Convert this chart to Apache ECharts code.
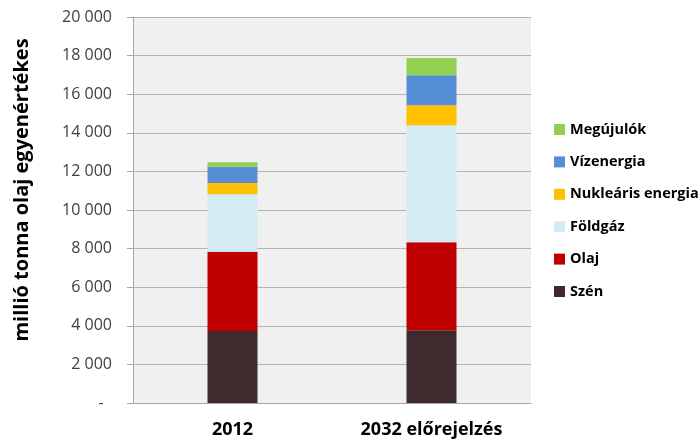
<!DOCTYPE html>
<html>
<head>
<meta charset="utf-8">
<script src="https://cdn.jsdelivr.net/npm/echarts@6/dist/echarts.min.js"></script>
<style>
	html, body { margin: 0; padding: 0; background: #fff; }
	#energy { width: 700px; height: 439px; }
</style>
</head>
<body>
<div id="energy"></div>
<script>
var categories = ['2012', '2032 előrejelzés'];
var szen = [3730, 3770];
var olaj = [4110, 4560];
var foldgaz = [2970, 6060];
var nuklearis = [590, 1040];
var vizenergia = [840, 1550];
var megujulok = [230, 900];
var seriesNames = ['Szén', 'Olaj', 'Földgáz', 'Nukleáris energia', 'Vízenergia', 'Megújulók'];
var seriesColors = ['#3f2a2d', '#c00000', '#d3ebf2', '#ffc000', '#558ed5', '#92d050'];
var yAxisTitle = 'millió tonna olaj egyenértékes';

var font = "'Open Sans', sans-serif";
var values = [szen, olaj, foldgaz, nuklearis, vizenergia, megujulok];
var series = [];
for (var i = 0; i < seriesNames.length; i++) {
	series.push({
		name: seriesNames[i],
		type: 'bar',
		stack: 'total',
		barWidth: 50,
		itemStyle: { color: seriesColors[i] },
		data: values[i]
	});
}

var energyChart = echarts.init(document.getElementById('energy'));
var option = {
	animation: false,
	textStyle: { fontFamily: font },
	grid: {
		show: true,
		left: 133,
		right: 169,
		top: 17,
		bottom: 36,
		backgroundColor: '#f0f0f0',
		borderWidth: 0
	},
	legend: {
		orient: 'vertical',
		left: 549,
		top: 117,
		itemWidth: 11,
		itemHeight: 11,
		itemGap: 17.4,
		icon: 'rect',
		data: seriesNames.slice().reverse(),
		textStyle: {
			fontFamily: font,
			fontWeight: 'bold',
			fontSize: 14.5,
			lineHeight: 14,
			color: '#000'
		}
	},
	xAxis: {
		type: 'category',
		data: categories,
		axisLine: { lineStyle: { color: '#a6a6a6' } },
		axisTick: { show: false },
		axisLabel: {
			margin: 18,
			fontFamily: font,
			fontWeight: 'bold',
			fontSize: 18,
			color: '#000'
		}
	},
	yAxis: {
		type: 'value',
		min: 0,
		max: 20000,
		interval: 2000,
		axisLine: { show: true, lineStyle: { color: '#a6a6a6' } },
		axisTick: { show: true, length: 6, lineStyle: { color: '#a6a6a6' } },
		splitLine: { lineStyle: { color: '#b3b3b3' } },
		axisLabel: {
			margin: 21,
			fontFamily: font,
			fontSize: 16,
			color: '#404040',
			formatter: function(value) {
				if (value === 0) {
					return '-  ';
				}
				return String(value).replace(/\B(?=(\d{3})+(?!\d))/g, ' ');
			}
		}
	},
	graphic: [{
		type: 'text',
		x: 22,
		y: 190,
		rotation: Math.PI / 2,
		style: {
			text: yAxisTitle,
			fontFamily: font,
			fontWeight: 'bold',
			fontSize: 20,
			fill: '#000',
			align: 'center',
			verticalAlign: 'middle'
		}
	}],
	series: series
};
energyChart.setOption(option);
</script>
</body>
</html>
